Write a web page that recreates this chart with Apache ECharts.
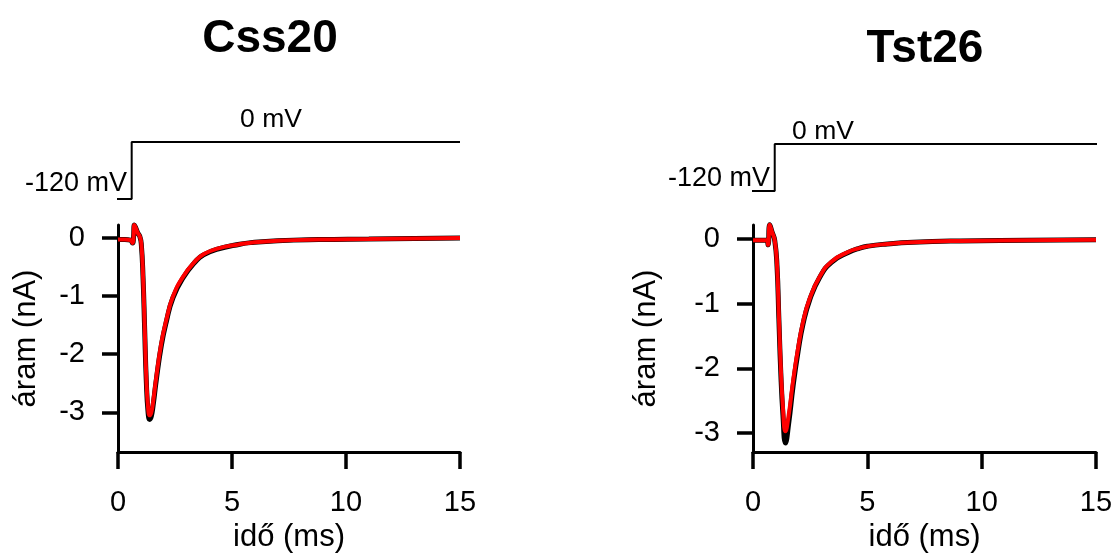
<!DOCTYPE html>
<html>
<head>
<meta charset="utf-8">
<script src="https://cdn.jsdelivr.net/npm/echarts@6/dist/echarts.min.js"></script>
<style>
html,body{margin:0;padding:0;background:#fff;}
#chart{width:1115px;height:554px;}
</style>
</head>
<body>
<div id="chart"></div>
<script>
// ---- Data ----
const panelTitles = ['Css20', 'Tst26'];
const xTicks = [0, 5, 10, 15];
const yTicks = [-3, -2, -1, 0];
const xName = 'idő (ms)';
const yName = 'áram (nA)';
const protocolLabels = ['-120 mV', '0 mV'];

// voltage protocol (time ms, mV)
const protoLeftT = [-0.05, 0.6, 0.6, 15];
const protoLeftV = [-120, -120, 0, 0];
const protoRightT = [-0.1, 0.95, 0.95, 15.05];
const protoRightV = [-120, -120, 0, 0];

// Css20 currents (time ms, nA)
const css20T = [0, 0.3, 0.55, 0.64, 0.68, 0.72, 0.78, 0.87, 0.95, 1.02, 1.1, 1.17, 1.24, 1.32, 1.39, 1.46, 1.54, 1.68, 1.9, 2.12, 2.41, 2.85, 3.44, 3.72, 4.32, 5.34, 5.9, 7.0, 8.8, 11.0, 13.0, 15.0];
const css20Red = [-0.03, -0.03, -0.04, -0.09, 0.0, 0.22, 0.17, 0.08, 0.03, -0.09, -0.67, -1.53, -2.39, -2.92, -3.05, -3.0, -2.82, -2.39, -1.81, -1.41, -1.01, -0.67, -0.38, -0.29, -0.19, -0.11, -0.08, -0.05, -0.03, -0.02, -0.01, -0.005];
const css20Black = [-0.03, -0.03, -0.04, -0.09, 0.0, 0.22, 0.17, 0.08, 0.03, -0.1, -0.7, -1.58, -2.45, -3.0, -3.12, -3.07, -2.88, -2.44, -1.85, -1.44, -1.03, -0.69, -0.39, -0.3, -0.2, -0.11, -0.08, -0.05, -0.03, -0.02, -0.01, -0.005];

// Tst26 currents (time ms, nA)
const tst26T = [0, 0.3, 0.6, 0.66, 0.73, 0.83, 0.95, 1.05, 1.13, 1.21, 1.31, 1.42, 1.56, 1.75, 1.97, 2.19, 2.48, 2.92, 3.43, 4.16, 4.67, 5.04, 5.77, 7.0, 9.05, 12.0, 15.0];
const tst26Red = [-0.02, -0.02, -0.02, -0.09, 0.22, 0.11, -0.02, -0.4, -1.17, -1.94, -2.61, -2.97, -2.72, -2.2, -1.69, -1.28, -0.92, -0.58, -0.35, -0.2, -0.14, -0.11, -0.08, -0.05, -0.03, -0.02, -0.01];
const tst26Black = [-0.02, -0.02, -0.02, -0.09, 0.22, 0.11, -0.02, -0.42, -1.22, -2.02, -2.72, -3.15, -2.85, -2.28, -1.74, -1.31, -0.94, -0.59, -0.36, -0.21, -0.14, -0.11, -0.08, -0.05, -0.03, -0.02, -0.01];

function pairs(t, v) { return t.map((x, i) => [x, v[i]]); }

const FONT = 'Liberation Sans, Arial, Helvetica, sans-serif';
const chart = echarts.init(document.getElementById('chart'), null, {renderer: 'canvas'});

function currentXAxis(gi) {
  return {
    type: 'value', gridIndex: gi, min: 0, max: 15, position: 'bottom',
    axisLine: {show: true, onZero: false, lineStyle: {color: '#000', width: 3}},
    axisTick: {show: true, inside: false, length: 17, lineStyle: {color: '#000', width: 3.5}, customValues: xTicks},
    axisLabel: {color: '#000', fontSize: 29, fontFamily: FONT, margin: 36, customValues: xTicks},
    splitLine: {show: false},
    name: xName, nameLocation: 'middle', nameGap: 70,
    nameTextStyle: {color: '#000', fontSize: 31, fontFamily: FONT}
  };
}
function currentYAxis(gi, min, max, gap) {
  return {
    type: 'value', gridIndex: gi, min: min, max: max, position: 'left',
    axisLine: {show: true, onZero: false, lineStyle: {color: '#000', width: 3}},
    axisTick: {show: true, inside: false, length: 16, lineStyle: {color: '#000', width: 3.5}, customValues: yTicks},
    axisLabel: {color: '#000', fontSize: 29, fontFamily: FONT, margin: 33, customValues: yTicks},
    splitLine: {show: false},
    name: yName, nameLocation: 'middle', nameGap: gap,
    nameTextStyle: {color: '#000', fontSize: 31, fontFamily: FONT}
  };
}
function protoXAxis(gi) {
  return {type: 'value', gridIndex: gi, min: 0, max: 15, show: false};
}
function protoYAxis(gi) {
  return {type: 'value', gridIndex: gi, min: -120, max: 0, show: false};
}
function traceSeries(xi, data, color, width, z) {
  return {
    type: 'line', xAxisIndex: xi, yAxisIndex: xi, data: data, showSymbol: false, symbol: 'none',
    smooth: 0.5, clip: false, z: z,
    lineStyle: {color: color, width: width}
  };
}
function protoSeries(xi, data) {
  return {
    type: 'line', xAxisIndex: xi, yAxisIndex: xi, data: data, showSymbol: false, symbol: 'none',
    clip: false, lineStyle: {color: '#000', width: 2}
  };
}

const option = {
  animation: false,
  backgroundColor: '#fff',
  grid: [
    {left: 118, top: 142, width: 342, height: 57, outerBoundsMode: 'none'},
    {left: 118, top: 225, width: 342, height: 227, outerBoundsMode: 'none'},
    {left: 753, top: 144, width: 343, height: 47, outerBoundsMode: 'none'},
    {left: 753, top: 225, width: 343, height: 227, outerBoundsMode: 'none'}
  ],
  xAxis: [protoXAxis(0), currentXAxis(1), protoXAxis(2), currentXAxis(3)],
  yAxis: [protoYAxis(0), currentYAxis(1, -3.68, 0.22, 76), protoYAxis(2), currentYAxis(3, -3.29, 0.216, 91)],
  series: [
    protoSeries(0, pairs(protoLeftT, protoLeftV)),
    traceSeries(1, pairs(css20T, css20Black), '#000', 5, 2),
    traceSeries(1, pairs(css20T, css20Red), '#ff0000', 4, 3),
    protoSeries(2, pairs(protoRightT, protoRightV)),
    traceSeries(3, pairs(tst26T, tst26Black), '#000', 5, 2),
    traceSeries(3, pairs(tst26T, tst26Red), '#ff0000', 4, 3)
  ],
  graphic: [
    {type: 'text', x: 270, y: 39, style: {text: panelTitles[0], font: 'bold 46px ' + FONT, fill: '#000', textAlign: 'center', textVerticalAlign: 'middle'}},
    {type: 'text', x: 925, y: 49, style: {text: panelTitles[1], font: 'bold 46px ' + FONT, fill: '#000', textAlign: 'center', textVerticalAlign: 'middle'}},
    {type: 'text', x: 76, y: 184, style: {text: protocolLabels[0], font: '27px ' + FONT, fill: '#000', textAlign: 'center', textVerticalAlign: 'middle'}},
    {type: 'text', x: 271, y: 120, style: {text: protocolLabels[1], font: '26.5px ' + FONT, fill: '#000', textAlign: 'center', textVerticalAlign: 'middle'}},
    {type: 'text', x: 719, y: 179, style: {text: protocolLabels[0], font: '27px ' + FONT, fill: '#000', textAlign: 'center', textVerticalAlign: 'middle'}},
    {type: 'text', x: 823, y: 132, style: {text: protocolLabels[1], font: '26.5px ' + FONT, fill: '#000', textAlign: 'center', textVerticalAlign: 'middle'}}
  ]
};
chart.setOption(option);
</script>
</body>
</html>
